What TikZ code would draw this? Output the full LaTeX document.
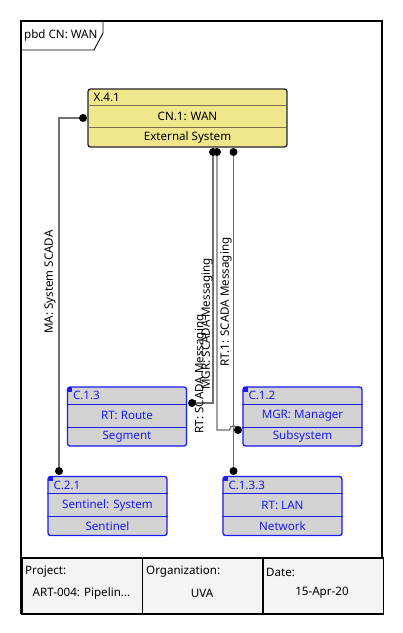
\documentclass[tikz,border=0pt]{standalone}
\usepackage{fontspec}
\setmainfont{Noto Sans}
\usetikzlibrary{calc}
\definecolor{khaki}{HTML}{F0E68C}
\definecolor{compfill}{HTML}{D3D3D3}
\definecolor{compblue}{HTML}{1A1AF5}
\definecolor{wanline}{HTML}{7A7050}
\definecolor{conn}{HTML}{707070}
\definecolor{footfill}{HTML}{F4F4F4}
\tikzset{
  txt/.style={font=\fontsize{11.6}{13.5}\selectfont, inner sep=0pt},
  wanbox/.style={draw=black!85, fill=khaki, line width=1.3, rounded corners=2.5, minimum width=199, minimum height=58, inner sep=0},
  compbox/.style={draw=compblue, fill=compfill, line width=1.3, rounded corners=2.5, minimum width=119, minimum height=59, inner sep=0},
  port/.style={circle, fill=black, inner sep=0, minimum size=8},
  wire/.style={draw=conn, line width=1.3},
  lbl/.style={txt, rotate=90, text=black},
  footcell/.style={draw=black, line width=1.6, fill=footfill, minimum width=120.5, minimum height=56, anchor=north west, inner sep=0}
}
\newcommand\mkcomp[6]{%
  \node[compbox] (#1) at (#2,#3) {};
  \draw[compblue, line width=1.1] ($(#1.north west)+(0,18)$) -- ($(#1.north east)+(0,18)$);
  \draw[compblue, line width=1.1] ($(#1.north west)+(0,41)$) -- ($(#1.north east)+(0,41)$);
  \fill[compblue] ($(#1.north west)+(1,1)$) rectangle ($(#1.north west)+(5.5,5.5)$);
  \node[txt, text=compblue, anchor=west] (#1-id) at ($(#1.north west)+(6,9.5)$) {#4};
  \node[txt, text=compblue] (#1-name) at ($(#1.north)+(0,29.5)$) {#5};
  \node[txt, text=compblue] (#1-type) at ($(#1.north)+(0,50)$) {#6};
}
\begin{document}
\begin{tikzpicture}[x=1pt,y=-1pt]
\useasboundingbox (0,0) rectangle (403,633);
\fill[white] (0,0) rectangle (403,633);
% frame
\draw[line width=1.8] (21,21) rectangle (382,613);
\draw[line width=0.9] (21,50) -- (94,50) -- (103,33) -- (103,21);
\node[txt, anchor=west] (title) at (24,35.5) {pbd CN: WAN};
% footer
\node[footcell] (fproj) at (21,557) {};
\node[footcell] (forg) at (141.5,557) {};
\node[footcell] (fdate) at (262,557) {};
\node[txt, anchor=west] (fprojl) at (25,572) {Project:};
\node[txt] (fprojv) at (81.5,593) {ART-004: Pipelin...};
\node[txt, anchor=west] (forgl) at (146,572) {Organization:};
\node[txt] (forgv) at (202,593) {UVA};
\node[txt, anchor=west] (fdatel) at (266,572) {Date:};
\node[txt] (fdatev) at (322,593) {15-Apr-20};
% WAN block
\node[wanbox] (wan) at (187.5,118) {};
\draw[wanline, line width=1.2] ($(wan.north west)+(0,17)$) -- ($(wan.north east)+(0,17)$);
\draw[wanline, line width=1.2] ($(wan.north west)+(0,39)$) -- ($(wan.north east)+(0,39)$);
\node[txt, anchor=west] (wan-id) at ($(wan.north west)+(6,9)$) {X.4.1};
\node[txt] (wan-name) at ($(wan.north)+(0,28)$) {CN.1: WAN};
\node[txt] (wan-type) at ($(wan.north)+(0,49)$) {External System};
% components
\mkcomp{c13}{127}{416.5}{C.1.3}{RT: Route}{Segment}
\mkcomp{c12}{302.5}{416.5}{C.1.2}{MGR: Manager}{Subsystem}
\mkcomp{c21}{107.5}{506}{C.2.1}{Sentinel: System}{Sentinel}
\mkcomp{c133}{282.5}{506}{C.1.3.3}{RT: LAN}{Network}
% connectors
\draw[wire] (83,118) -| (59,471);
\draw[wire] (213,152) |- (192,403);
\draw[wire] (217,152) -- (217,430) -- (229.5,430) .. controls (229.5,424.5) and (237.5,424.5) .. (237.5,430) -- (238,430);
\draw[wire] (233.5,152) -- (233.5,471);
% ports
\node[port] (pwl) at (83,118) {};
\node[port] (pw1) at (213,152) {};
\node[port] (pw2) at (217,152) {};
\node[port] (pw3) at (233.5,152) {};
\node[port] (pc21) at (59,471) {};
\node[port] (pc13) at (192,403) {};
\node[port] (pc12) at (238,430) {};
\node[port] (pc133) at (233.5,471) {};
% labels
\node[lbl] (lma) at (50,282) {MA: System SCADA};
\node[lbl] (lrt1) at (226,302) {RT.1: SCADA Messaging};
\node[lbl] (lmgr) at (207,324) {MGR: SCADA Messaging};
\node[lbl] (lrt) at (200.5,374) {RT: SCADA Messaging};
\end{tikzpicture}
\end{document}
